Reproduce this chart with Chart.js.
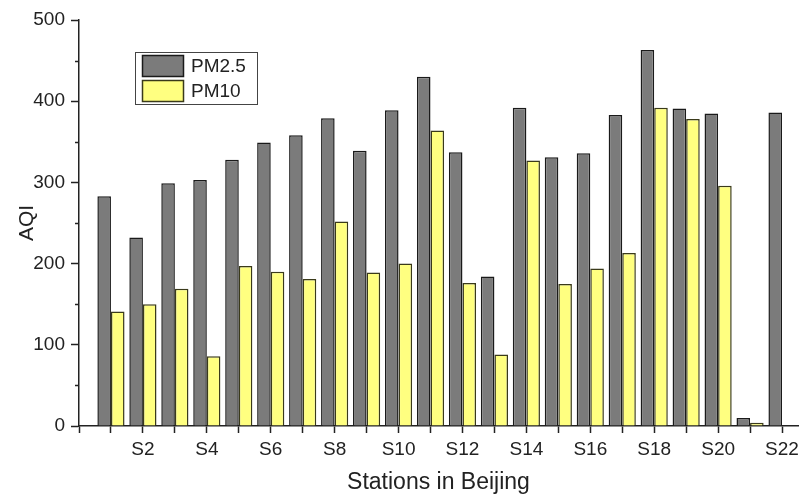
<!DOCTYPE html>
<html>
<head>
<meta charset="utf-8">
<script src="https://cdn.jsdelivr.net/npm/chart.js@4"></script>
<style>
  html, body { margin: 0; padding: 0; background: #fff; }
  #wrap { width: 802px; height: 496px; position: relative; }
</style>
</head>
<body>
<div id="wrap"><canvas id="aqi-chart"></canvas></div>
<script>
// Station names and AQI readings
const stations = ['S1','S2','S3','S4','S5','S6','S7','S8','S9','S10','S11',
                  'S12','S13','S14','S15','S16','S17','S18','S19','S20','S21','S22'];
const shownLabels = ['S2','S4','S6','S8','S10','S12','S14','S16','S18','S20','S22'];
const pm25 = [283, 232, 299, 303, 328, 349, 358, 379, 339, 389, 430,
              337, 184, 392, 331, 336, 383, 463, 391, 385, 10, 386];
const pm10 = [141, 150, 169, 86, 197, 190, 181, 252, 189, 200, 364,
              176, 88, 327, 175, 194, 213, 392, 378, 296, 4, null];
const yTicks = [0, 100, 200, 300, 400, 500];
const yMinorTicks = [50, 150, 250, 350, 450];

const INK = '#222';
const FONT = 'Liberation Sans, Arial, sans-serif';

const toPoints = arr => arr.map((v, i) => ({ x: i + 1, y: v }));

// small outward minor ticks on the y axis
const minorTicks = {
    id: 'minorTicks',
    afterDraw(chart) {
        const y = chart.scales.y;
        const ctx = chart.ctx;
        ctx.save();
        ctx.strokeStyle = INK;
        ctx.lineWidth = 1.5;
        yMinorTicks.forEach(v => {
            const py = Math.round(y.getPixelForValue(v)) + 0.5;
            ctx.beginPath();
            ctx.moveTo(y.right - 4, py);
            ctx.lineTo(y.right, py);
            ctx.stroke();
        });
        ctx.restore();
    }
};

// boxed legend sitting inside the plot, upper left
const boxLegend = {
    id: 'boxLegend',
    afterDraw(chart) {
        const ctx = chart.ctx;
        const x0 = 135, y0 = 52, w = 122, h = 52;
        ctx.save();
        ctx.fillStyle = '#fff';
        ctx.fillRect(x0, y0, w, h);
        ctx.strokeStyle = '#444';
        ctx.lineWidth = 1;
        ctx.strokeRect(x0 + 0.5, y0 + 0.5, w, h);
        chart.data.datasets.forEach((ds, i) => {
            const sy = y0 + 3 + i * 25;
            ctx.fillStyle = ds.backgroundColor;
            ctx.fillRect(x0 + 7, sy, 42, 22);
            ctx.strokeStyle = ds.borderColor;
            ctx.lineWidth = 1.5;
            ctx.strokeRect(x0 + 7.5, sy + 0.5, 41, 21);
            ctx.fillStyle = INK;
            ctx.font = '19px ' + FONT;
            ctx.textBaseline = 'middle';
            ctx.fillText(ds.label, x0 + 56, sy + 12);
        });
        ctx.restore();
    }
};

new Chart(document.getElementById('aqi-chart'), {
    type: 'bar',
    data: {
        datasets: [
            { label: 'PM2.5', data: toPoints(pm25), backgroundColor: '#7b7b7b', borderColor: '#1a1a1a', borderWidth: 1.5 },
            { label: 'PM10', data: toPoints(pm10), backgroundColor: '#ffff80', borderColor: '#3a3a1a', borderWidth: 1.5 },
        ],
    },
    options: {
        responsive: true,
        maintainAspectRatio: false,
        animation: false,
        categoryPercentage: 0.85,
        barPercentage: 1.0,
        layout: { padding: { top: 20, right: 4, bottom: 0, left: 0 } },
        plugins: {
            legend: { display: false },
            tooltip: { enabled: false },
        },
        scales: {
            x: {
                type: 'linear',
                min: 0,
                max: 22.5,
                offset: false,
                grid: { display: true, drawOnChartArea: false, drawTicks: true, tickLength: 7, tickWidth: 1.5, tickColor: INK, offset: false },
                border: { display: true, color: INK, width: 1.5 },
                ticks: {
                    stepSize: 1,
                    includeBounds: false,
                    autoSkip: false,
                    maxRotation: 0,
                    padding: 5,
                    color: INK,
                    font: { family: FONT, size: 19 },
                    callback: v => {
                        const name = stations[v - 1];
                        return shownLabels.includes(name) ? name : '';
                    },
                },
                title: { display: true, text: 'Stations in Beijing', color: INK, font: { family: FONT, size: 23 }, padding: { top: 0, bottom: 0 } },
                afterFit: s => { s.height = 70; s.paddingLeft = 0; s.paddingRight = 0; },
            },
            y: {
                min: 0,
                max: 500,
                grid: { display: true, drawOnChartArea: false, drawTicks: true, tickLength: 8, tickWidth: 1.5, tickColor: INK },
                border: { display: true, color: INK, width: 1.5 },
                afterBuildTicks: s => { s.ticks = yTicks.map(v => ({ value: v })); },
                ticks: {
                    padding: 6,
                    color: INK,
                    font: { family: FONT, size: 19 },
                },
                title: { display: true, text: 'AQI', color: INK, font: { family: FONT, size: 21 }, padding: { top: 15, bottom: 0 } },
                afterFit: s => { s.width = 79; },
            },
        },
    },
    plugins: [minorTicks, boxLegend],
});
</script>
</body>
</html>
